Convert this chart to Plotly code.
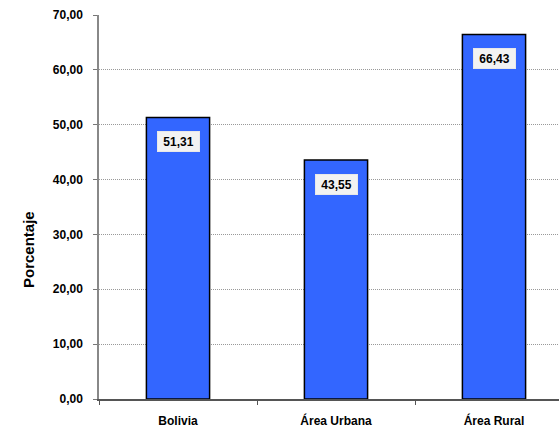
import plotly.graph_objects as go

categories = ["Bolivia", "Área Urbana", "Área Rural"]
values = [51.31, 43.55, 66.43]
value_labels = ["51,31", "43,55", "66,43"]
y_title = "Porcentaje"

W, H = 559, 427
L, R, T, B = 99, 0, 15, 28
PW = W - L - R
PH = H - T - B
FONT = "Liberation Sans, Arial"

fig = go.Figure()
fig.add_trace(go.Bar(
    x=categories, y=values, width=0.4,
    marker=dict(color="#3366ff", line=dict(color="#000000", width=1.5)),
    hoverinfo="skip",
))

for c, v, t in zip(categories, values, value_labels):
    fig.add_annotation(
        x=c, y=v, xref="x", yref="y", text="<b>%s</b>" % t, showarrow=False,
        yshift=-24, bgcolor="#f2f2f2", bordercolor="#e8e8e8", borderwidth=1,
        borderpad=2, width=37, height=15,
        font=dict(family=FONT, size=12, color="#000000"),
    )

fig.add_annotation(
    text="<b>%s</b>" % y_title, xref="paper", yref="paper",
    x=(28 - L) / PW, y=(399 - 250) / PH, textangle=-90,
    xanchor="center", yanchor="middle",
    showarrow=False, font=dict(family=FONT, size=15, color="#000000"),
)

fig.update_layout(
    width=W, height=H, margin=dict(l=L, r=R, t=T, b=B, pad=0),
    paper_bgcolor="white", plot_bgcolor="white", showlegend=False,
    separators=",.",
    font=dict(family=FONT, size=12, color="#000000"),
    xaxis=dict(
        type="category", range=[-0.5, PW / 158 - 0.5],
        tickson="boundaries", ticks="outside", ticklen=4, tickcolor="#555555",
        showline=True, linecolor="#555555", linewidth=1.5, showgrid=False,
        tickfont=dict(family=FONT, size=12, weight="bold"),
        ticklabelstandoff=10,
    ),
    yaxis=dict(
        range=[0, 70], dtick=10, tickformat=".2f",
        ticks="outside", ticklen=4, tickcolor="#777777",
        showline=True, linecolor="#888888", linewidth=1.5,
        showgrid=True, gridcolor="#999999", griddash="1px,1px", gridwidth=1,
        tickfont=dict(family=FONT, size=12, weight="bold"),
        ticklabelstandoff=8, zeroline=False,
    ),
)

fig.write_html(
    "out.html",
    config={"displayModeBar": False},
    post_script="document.documentElement.style.overflow='hidden';"
                "document.body.style.margin='0';document.body.style.overflow='hidden';",
)
